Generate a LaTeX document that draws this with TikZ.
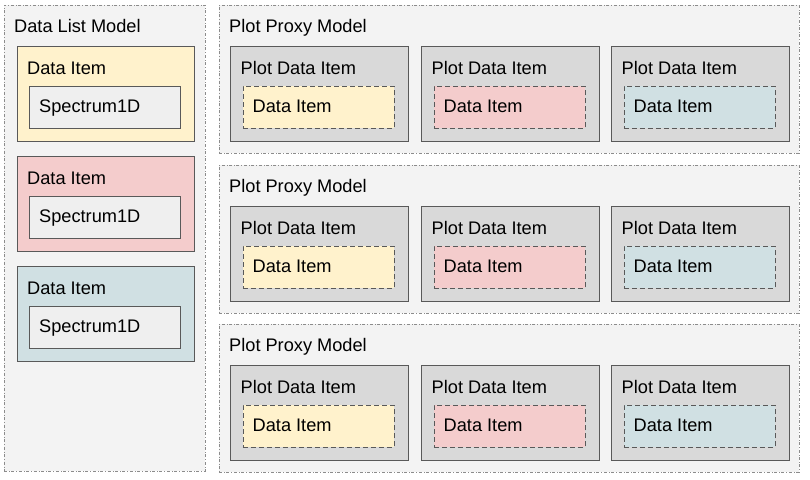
\documentclass[tikz,border=0pt]{standalone}
\usepackage{fontspec}
\setmainfont{Liberation Sans}
\definecolor{modelgray}{HTML}{F3F3F3}
\definecolor{modeledge}{HTML}{8C8C8C}
\definecolor{itemyellow}{HTML}{FFF2CC}
\definecolor{itemred}{HTML}{F4CCCC}
\definecolor{itemblue}{HTML}{D0E0E3}
\definecolor{specgray}{HTML}{EFEFEF}
\definecolor{plotgray}{HTML}{D9D9D9}
\definecolor{edgegray}{HTML}{595959}

\begin{document}
\begin{tikzpicture}[
    x=1pt, y=-1pt,
    model/.style={rectangle, draw=modeledge, dash dot, fill=modelgray, line width=0.9pt, anchor=north west, inner sep=0pt, outer sep=0pt},
    item/.style={rectangle, draw=edgegray, line width=0.9pt, anchor=north west, inner sep=0pt, minimum width=177pt, minimum height=95pt},
    spec/.style={rectangle, draw=edgegray, fill=specgray, line width=0.9pt, anchor=north west, inner sep=0pt, minimum width=151pt, minimum height=42pt},
    plotitem/.style={rectangle, draw=edgegray, fill=plotgray, line width=0.9pt, anchor=north west, inner sep=0pt, minimum width=178pt, minimum height=95pt},
    dataitem/.style={rectangle, draw=edgegray, dash pattern=on 5pt off 3pt, line width=0.9pt, anchor=north west, inner sep=0pt, minimum width=151pt, minimum height=42pt},
    boxlabel/.style={anchor=base west, inner sep=0pt, text=black, font=\fontsize{18.2}{20}\selectfont}
]
    \useasboundingbox (0,0) rectangle (810,479);

    % Data list model
    \node[model, minimum width=201pt, minimum height=466pt] (list) at (4,5) {};
    \node[boxlabel] (listlabel) at (14,32) {Data List Model};
    \foreach \n/\t/\c in {1/46/itemyellow, 2/156/itemred, 3/266/itemblue} {
        \node[item, fill=\c] (item\n) at (17,\t) {};
        \node[boxlabel] (itemlabel\n) at (27,\t+28) {Data Item};
        \node[spec] (spec\n) at (29,\t+40) {};
        \node[boxlabel] (speclabel\n) at (39,\t+66) {Spectrum1D};
    }

    % Plot proxy models
    \foreach \r/\t in {1/5, 2/165, 3/324} {
        \node[model, minimum width=580pt, minimum height=148pt] (proxy\r) at (219,\t) {};
        \node[boxlabel] (proxylabel\r) at (229,\t+27) {Plot Proxy Model};
        \foreach \k/\x/\c in {1/230/itemyellow, 2/421/itemred, 3/611/itemblue} {
            \node[plotitem] (plot\r\k) at (\x,\t+41) {};
            \node[boxlabel] (plotlabel\r\k) at (\x+10.5,\t+69) {Plot Data Item};
            \node[dataitem, fill=\c] (data\r\k) at (\x+12.5,\t+81) {};
            \node[boxlabel] (datalabel\r\k) at (\x+22.5,\t+107) {Data Item};
        }
    }
\end{tikzpicture}
\end{document}
